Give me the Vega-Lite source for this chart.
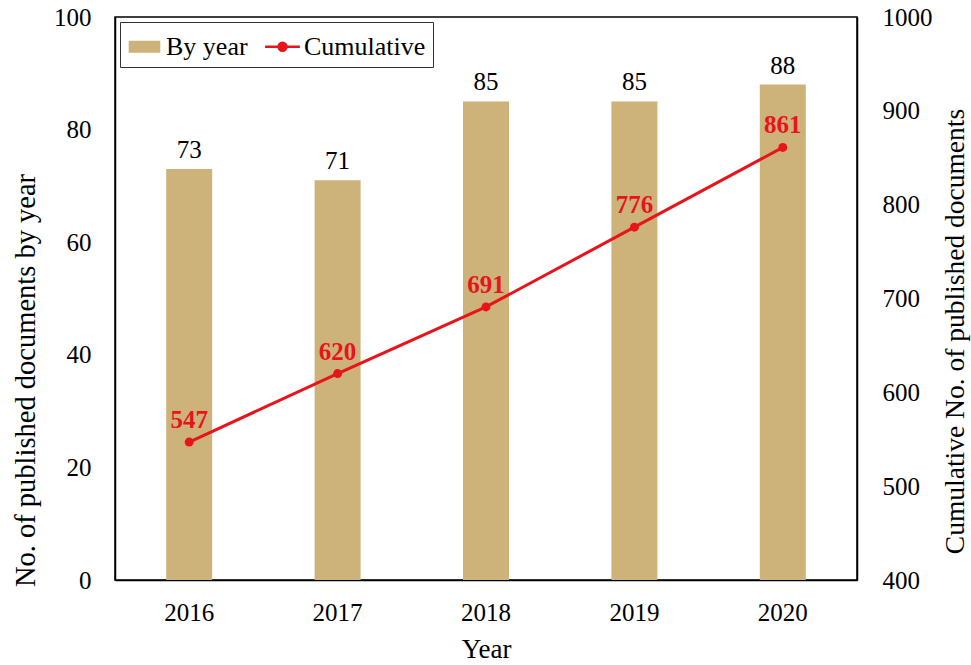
{
  "$schema": "https://vega.github.io/schema/vega-lite/v6.json",
  "autosize": {"type": "none"},
  "padding": {"left": 115, "top": 17, "right": 114, "bottom": 85},
  "width": 742,
  "height": 563,
  "background": "white",
  "config": {
    "font": "Liberation Serif",
    "view": {"stroke": "black", "strokeWidth": 1.5},
    "axis": {"labelFont": "Liberation Serif", "titleFont": "Liberation Serif", "labelFontSize": 25, "titleFontSize": 27, "labelColor": "black", "titleColor": "black", "titleFontWeight": "normal", "grid": false, "ticks": false, "domainColor": "black", "domainWidth": 1.5}
  },
  "data": {"values": [
    {"year": "2016", "count": 73, "cum": 547, "series": "By year"},
    {"year": "2017", "count": 71, "cum": 620, "series": "By year"},
    {"year": "2018", "count": 85, "cum": 691, "series": "By year"},
    {"year": "2019", "count": 85, "cum": 776, "series": "By year"},
    {"year": "2020", "count": 88, "cum": 861, "series": "By year"}
  ]},
  "encoding": {
    "x": {"field": "year", "type": "nominal", "scale": {"paddingInner": 0.69, "paddingOuter": 0.345},
      "axis": {"title": "Year", "labelAngle": 0, "labelPadding": 20, "titlePadding": 11}}
  },
  "layer": [
    {
      "layer": [
        {
          "mark": {"type": "bar"},
          "encoding": {
            "y": {"field": "count", "type": "quantitative", "scale": {"domain": [0, 100]},
              "axis": {"title": "No. of published documents by year", "values": [0, 20, 40, 60, 80, 100], "labelPadding": 24,
                "titleFontSize": 28.5, "titleAngle": 270, "titleX": -90, "titleY": 363, "titleAlign": "center", "titleBaseline": "middle"}},
            "color": {"field": "series", "type": "nominal",
              "scale": {"domain": ["By year", "Cumulative"], "range": ["#CDB27A", "#E8141B"]},
              "legend": {"title": null, "orient": "none", "legendX": 5, "legendY": 5, "direction": "horizontal",
                "labelFont": "Liberation Serif", "labelFontSize": 26, "labelColor": "black",
                "strokeColor": "#333", "padding": 7, "columnPadding": 12, "labelOffset": 4,
                "symbolSize": 1000,
                "encode": {"symbols": {"update": {
                  "shape": {"signal": "datum.label == 'By year' ? 'M-1,-0.38H1V0.38H-1Z' : 'M-1.1,0H1.1M0.25,0A0.25,0.25 0 1 1 -0.25,0A0.25,0.25 0 1 1 0.25,0'"},
                  "fill": {"signal": "datum.label == 'By year' ? '#CDB27A' : '#E8141B'"},
                  "stroke": {"signal": "datum.label == 'By year' ? 'transparent' : '#E8141B'"},
                  "strokeWidth": {"value": 2.5}
                }}}}
            }
          }
        },
        {
          "mark": {"type": "text", "baseline": "alphabetic", "dy": -11, "fontSize": 25, "color": "black"},
          "encoding": {
            "y": {"field": "count", "type": "quantitative", "scale": {"domain": [0, 100]}},
            "text": {"field": "count", "type": "quantitative"}
          }
        }
      ]
    },
    {
      "layer": [
        {
          "mark": {"type": "line", "color": "#E8141B", "strokeWidth": 3, "point": {"filled": true, "size": 80, "color": "#E8141B"}},
          "encoding": {
            "y": {"field": "cum", "type": "quantitative", "scale": {"domain": [400, 1000]},
              "axis": {"orient": "right", "title": "Cumulative No. of published documents", "format": "d", "values": [400, 500, 600, 700, 800, 900, 1000], "labelPadding": 25,
                "titleFontSize": 27.5, "titleAngle": 270, "titleX": 98, "titleY": 314, "titleAlign": "center", "titleBaseline": "middle"}}
          }
        },
        {
          "mark": {"type": "text", "baseline": "alphabetic", "dy": -14, "fontSize": 25, "fontWeight": "bold", "color": "#E8141B"},
          "encoding": {
            "y": {"field": "cum", "type": "quantitative", "scale": {"domain": [400, 1000]}},
            "text": {"field": "cum", "type": "quantitative"}
          }
        }
      ]
    }
  ],
  "resolve": {"scale": {"y": "independent"}, "axis": {"y": "independent"}}
}
